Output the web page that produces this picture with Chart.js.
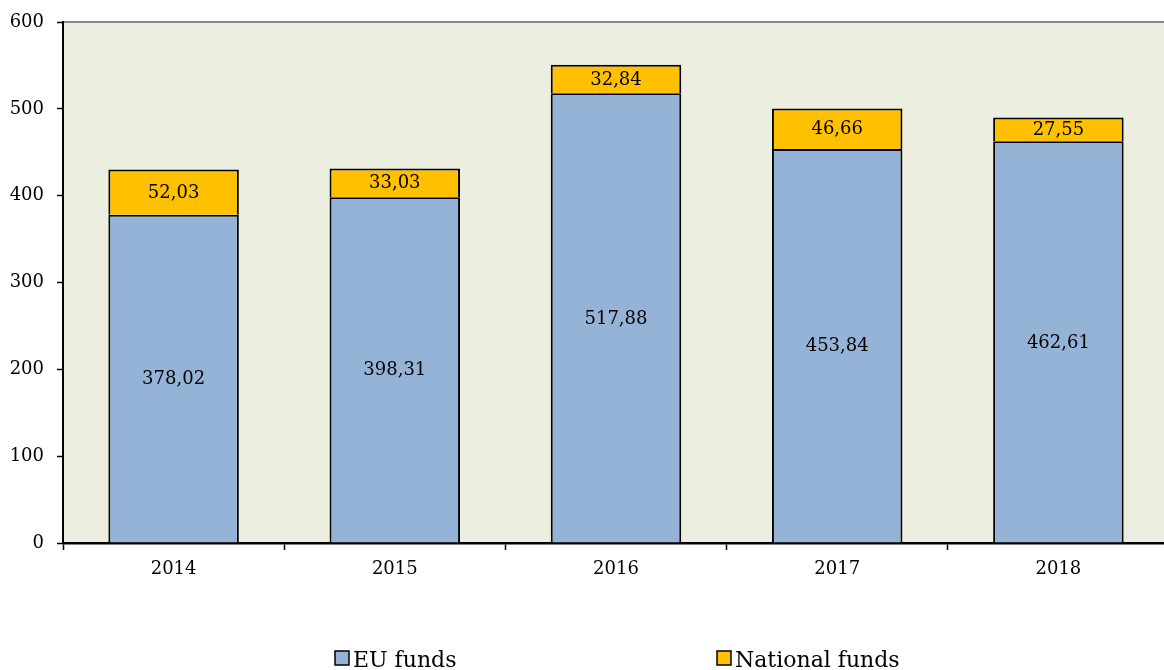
<!DOCTYPE html>
<html>
<head>
<meta charset="utf-8">
<script src="https://cdn.jsdelivr.net/npm/chart.js@4.4.1/dist/chart.umd.min.js"></script>
<style>
html,body{margin:0;padding:0;background:#fff;}
#wrap{width:1164px;height:670px;position:relative;}
</style>
</head>
<body>
<div id="wrap"><canvas id="c" width="1164" height="670"></canvas></div>
<script>
const categories = ['2014', '2015', '2016', '2017', '2018'];
const euFunds = [378.02, 398.31, 517.88, 453.84, 462.61];
const nationalFunds = [52.03, 33.03, 32.84, 46.66, 27.55];
const seriesNames = ['EU funds', 'National funds'];
const yTicks = [0, 100, 200, 300, 400, 500, 600];

const FONT = '"DejaVu Serif", "Liberation Serif", serif';

// the reference plot area runs a few pixels past the right edge of the image
const extendRight = {
  id: 'extendRight',
  afterLayout(chart) {
    const x = chart.scales.x;
    x.right += 5;
    x.width += 5;
    chart.chartArea.right += 5;
    chart.chartArea.width += 5;
    x.configure();
  }
};

const plotBg = {
  id: 'plotBg',
  beforeDraw(chart) {
    const {ctx, chartArea: a} = chart;
    ctx.save();
    ctx.fillStyle = '#ECEFE0';
    ctx.fillRect(a.left, a.top, a.right - a.left, a.bottom - a.top);
    ctx.strokeStyle = '#888888';
    ctx.lineWidth = 2;
    ctx.beginPath();
    ctx.moveTo(a.left, a.top);
    ctx.lineTo(a.right, a.top);
    ctx.stroke();
    ctx.restore();
  }
};

const valueLabels = {
  id: 'valueLabels',
  afterDatasetsDraw(chart) {
    const ctx = chart.ctx;
    ctx.save();
    ctx.font = '18px ' + FONT;
    ctx.fillStyle = '#000';
    ctx.textAlign = 'center';
    ctx.textBaseline = 'middle';
    chart.data.datasets.forEach((ds, di) => {
      const meta = chart.getDatasetMeta(di);
      meta.data.forEach((el, i) => {
        const v = ds.data[i];
        const y = (el.y + el.base) / 2;
        ctx.fillText(v.toFixed(2).replace('.', ','), el.x, y + 1);
      });
    });
    ctx.restore();
  }
};

const customLegend = {
  id: 'customLegend',
  afterDraw(chart) {
    const ctx = chart.ctx;
    const items = [
      {x: 335, ds: chart.data.datasets[0]},
      {x: 717, ds: chart.data.datasets[1]}
    ];
    ctx.save();
    ctx.font = '22px ' + FONT;
    ctx.textBaseline = 'alphabetic';
    ctx.textAlign = 'left';
    const y = 651;
    items.forEach(it => {
      ctx.fillStyle = it.ds.backgroundColor;
      ctx.fillRect(it.x, y, 14, 14);
      ctx.strokeStyle = '#000';
      ctx.lineWidth = 1.5;
      ctx.strokeRect(it.x, y, 14, 14);
      ctx.fillStyle = '#000';
      ctx.fillText(it.ds.label, it.x + 18, y + 16);
    });
    ctx.restore();
  }
};

new Chart(document.getElementById('c'), {
  type: 'bar',
  data: {
    labels: categories,
    datasets: [
      {label: seriesNames[0], data: euFunds, backgroundColor: '#95B3D7', borderColor: '#000', borderWidth: 2},
      {label: seriesNames[1], data: nationalFunds, backgroundColor: '#FFC000', borderColor: '#000', borderWidth: 2}
    ]
  },
  options: {
    responsive: false,
    animation: false,
    devicePixelRatio: 1,
    layout: {padding: {top: 19, right: 0, left: 0, bottom: 0}},
    datasets: {bar: {categoryPercentage: 1, barPercentage: 0.59}},
    plugins: {legend: {display: false}, tooltip: {enabled: false}},
    scales: {
      x: {
        stacked: true,
        offset: true,
        grid: {offset: true, drawOnChartArea: false, drawTicks: true, tickLength: 7, tickColor: '#000', tickWidth: 1.5},
        border: {display: true, color: '#000', width: 2.5},
        ticks: {color: '#000', font: {family: FONT, size: 18}, padding: 9, maxRotation: 0},
        afterFit(scale) { scale.height = 127; }
      },
      y: {
        stacked: true,
        min: 0, max: 600,
        afterBuildTicks(scale) { scale.ticks = yTicks.map(v => ({value: v})); },
        grid: {drawOnChartArea: false, drawTicks: true, tickLength: 6, tickColor: '#000', tickWidth: 1.5},
        border: {display: true, color: '#000', width: 2},
        ticks: {color: '#000', font: {family: FONT, size: 18, lineHeight: 1}, padding: 13},
        afterFit(scale) { scale.width = 63; }
      }
    }
  },
  plugins: [extendRight, plotBg, valueLabels, customLegend]
});
</script>
</body>
</html>
